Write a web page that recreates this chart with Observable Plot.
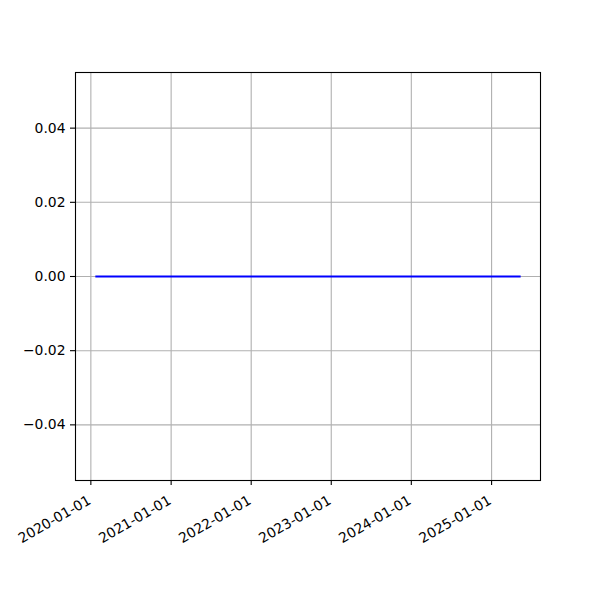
<!DOCTYPE html>
<html>
<head>
<meta charset="utf-8">
<script src="https://cdn.jsdelivr.net/npm/d3@7"></script>
<script src="https://cdn.jsdelivr.net/npm/@observablehq/plot@0.6"></script>
<style>
  html, body { margin: 0; padding: 0; background: white; }
</style>
</head>
<body>
<div id="chart"></div>
<script>
const dates = ["2020-01-26", "2025-05-09"];
const values = [0, 0];
const xTicks = ["2020-01-01", "2021-01-01", "2022-01-01", "2023-01-01", "2024-01-01", "2025-01-01"];
const yTicks = [-0.04, -0.02, 0, 0.02, 0.04];

const data = dates.map((d, i) => ({date: new Date(d + "T00:00:00Z"), value: values[i]}));
const xTickDates = xTicks.map(d => new Date(d + "T00:00:00Z"));
const fmt = d3.utcFormat("%Y-%m-%d");

const chart = Plot.plot({
  width: 600,
  height: 600,
  marginLeft: 75,
  marginRight: 60,
  marginTop: 72,
  marginBottom: 120,
  style: {fontFamily: "DejaVu Sans", fontSize: "13.9px", color: "black", background: "white"},
  x: {type: "utc", domain: [new Date("2019-10-23T00:00:00Z"), new Date("2025-08-12T00:00:00Z")]},
  y: {domain: [-0.055, 0.055]},
  marks: [
    Plot.gridX(xTickDates, {stroke: "#b0b0b0", strokeOpacity: 1, strokeWidth: 1.1}),
    Plot.gridY(yTicks, {stroke: "#b0b0b0", strokeOpacity: 1, strokeWidth: 1.1}),
    Plot.line(data, {x: "date", y: "value", stroke: "blue", strokeWidth: 2, strokeLinecap: "square"}),
    Plot.frame({stroke: "black", strokeWidth: 1.1}),
    Plot.axisY(yTicks, {tickSize: 5, tickPadding: 5, tickFormat: d3.format(".2f"), fontSize: 13.9, label: null, strokeWidth: 1.1}),
    Plot.axisX(xTickDates, {tickSize: 5, tickFormat: () => "", label: null, strokeWidth: 1.1}),
    Plot.text(xTickDates, {
      x: d => d,
      text: d => fmt(d),
      frameAnchor: "bottom",
      rotate: -30,
      textAnchor: "end",
      lineAnchor: "top",
      dx: -4,
      dy: 14,
      fontSize: 13.9,
      fill: "black"
    })
  ]
});
document.getElementById("chart").appendChild(chart);
</script>
</body>
</html>
